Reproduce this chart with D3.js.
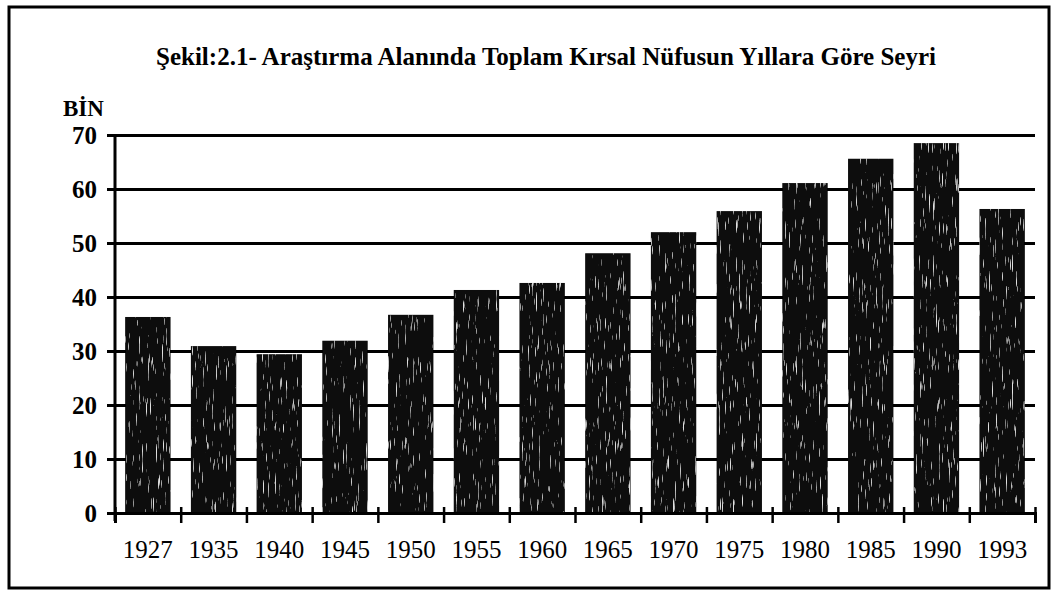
<!DOCTYPE html>
<html>
<head>
<meta charset="utf-8">
<script src="https://cdn.jsdelivr.net/npm/d3@7"></script>
<style>
  body { margin: 0; background: #fff; }
  .chart text { fill: #000; }
</style>
</head>
<body>
<div id="chart" class="chart"></div>
<script>
const title = "Şekil:2.1- Araştırma Alanında Toplam Kırsal Nüfusun Yıllara Göre Seyri";
const unitLabel = "BİN";
const years = ["1927", "1935", "1940", "1945", "1950", "1955", "1960",
               "1965", "1970", "1975", "1980", "1985", "1990", "1993"];
const population = [36.3, 30.9, 29.4, 31.9, 36.7, 41.3, 42.6,
                    48.1, 52.0, 55.9, 61.1, 65.6, 68.5, 56.3];
const yTicks = [0, 10, 20, 30, 40, 50, 60, 70];

function buildChart() {
    const W = 1054, H = 594;
    const margin = { top: 135, right: 19, bottom: 81, left: 115 };
    const width = W - margin.left - margin.right;
    const height = H - margin.top - margin.bottom;
    const serif = "'Liberation Serif', 'Times New Roman', serif";

    const root = d3.select("#chart").append("svg")
        .attr("width", W)
        .attr("height", H);

    // grainy print texture for the bars
    const filter = root.append("defs").append("filter")
        .attr("id", "grain")
        .attr("x", 0).attr("y", 0).attr("width", 1).attr("height", 1);
    filter.append("feTurbulence")
        .attr("type", "fractalNoise")
        .attr("baseFrequency", "0.7 0.05")
        .attr("numOctaves", 2)
        .attr("seed", 7)
        .attr("result", "noise");
    filter.append("feColorMatrix")
        .attr("in", "noise")
        .attr("type", "matrix")
        .attr("values", "0 0 0 0 0.75  0 0 0 0 0.75  0 0 0 0 0.75  7 0 0 0 -4.6")
        .attr("result", "speck");
    filter.append("feComposite")
        .attr("in", "speck").attr("in2", "SourceGraphic")
        .attr("operator", "in").attr("result", "speckIn");
    const merge = filter.append("feMerge");
    merge.append("feMergeNode").attr("in", "SourceGraphic");
    merge.append("feMergeNode").attr("in", "speckIn");

    // outer frame
    root.append("rect")
        .attr("x", 9).attr("y", 7)
        .attr("width", 1040).attr("height", 581)
        .attr("fill", "none")
        .attr("stroke", "#000")
        .attr("stroke-width", 3);

    root.append("text")
        .attr("x", 546).attr("y", 65)
        .attr("text-anchor", "middle")
        .style("font-family", serif)
        .style("font-weight", "bold")
        .style("font-size", "25px")
        .text(title);

    root.append("text")
        .attr("x", 63).attr("y", 116)
        .style("font-family", serif)
        .style("font-weight", "bold")
        .style("font-size", "23px")
        .text(unitLabel);

    const svg = root.append("g")
        .attr("transform", `translate(${margin.left},${margin.top})`);

    const x = d3.scaleBand()
        .domain(years)
        .range([0, width])
        .paddingInner(0.31)
        .paddingOuter(0.155);

    const y = d3.scaleLinear()
        .domain([0, 70])
        .range([height, 0]);

    // horizontal grid lines (they also act as the y ticks)
    const yAxis = svg.append("g")
        .call(d3.axisLeft(y).tickValues(yTicks).tickSize(-width - 8).tickPadding(0));
    yAxis.select(".domain").remove();
    yAxis.selectAll(".tick line")
        .attr("x1", -8)
        .attr("x2", width)
        .attr("stroke", "#000")
        .attr("stroke-width", 3);
    yAxis.selectAll(".tick text")
        .attr("x", -18)
        .style("font-family", serif)
        .style("font-weight", "bold")
        .style("font-size", "25px");

    svg.append("g")
        .selectAll("rect")
        .data(population)
        .enter()
        .append("rect")
        .attr("x", (d, i) => x(years[i]))
        .attr("y", d => y(d))
        .attr("width", x.bandwidth())
        .attr("height", d => height - y(d))
        .attr("fill", "#080808")
        .attr("filter", "url(#grain)");

    // y axis line
    svg.append("line")
        .attr("x1", 0).attr("x2", 0)
        .attr("y1", 0).attr("y2", height + 8)
        .attr("stroke", "#000")
        .attr("stroke-width", 3);

    // x axis with ticks on the category boundaries
    const bounds = d3.scaleLinear().domain([0, years.length]).range([0, width]);
    const xTicks = svg.append("g")
        .attr("transform", `translate(0,${height})`)
        .call(d3.axisBottom(bounds).ticks(years.length).tickSize(10).tickFormat(""));
    xTicks.select(".domain")
        .attr("stroke", "#000")
        .attr("stroke-width", 3);
    xTicks.selectAll(".tick line")
        .attr("y1", -6)
        .attr("stroke", "#000")
        .attr("stroke-width", 2.5);

    const xAxis = svg.append("g")
        .attr("transform", `translate(0,${height})`)
        .call(d3.axisBottom(x).tickSize(0).tickPadding(27));
    xAxis.select(".domain").remove();
    xAxis.selectAll(".tick text")
        .style("font-family", serif)
        .style("font-size", "25px");
}

buildChart();
</script>
</body>
</html>
